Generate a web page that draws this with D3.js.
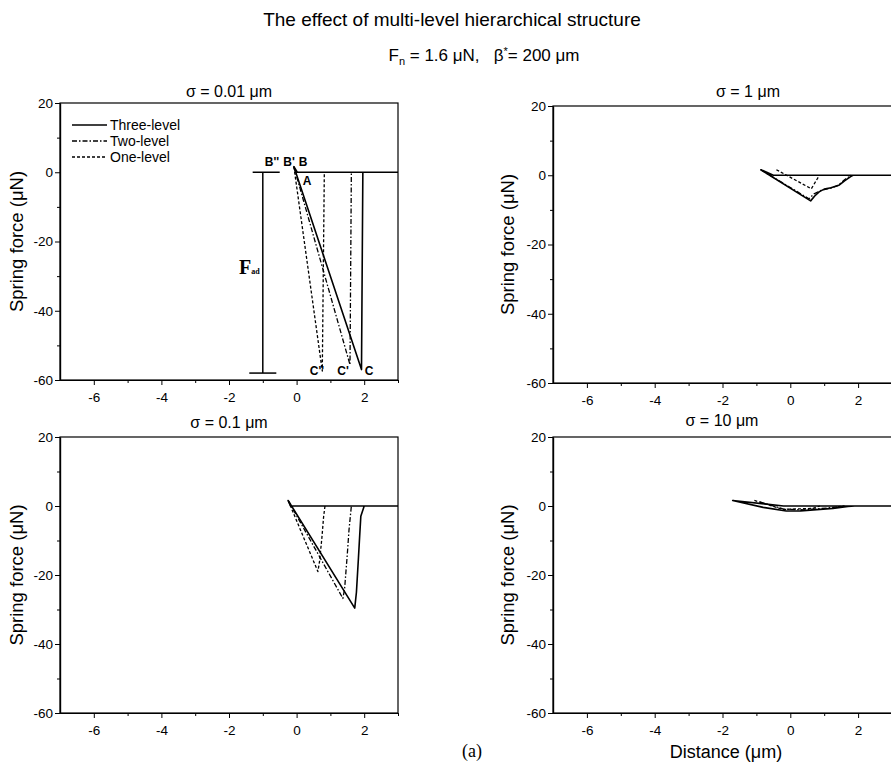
<!DOCTYPE html>
<html>
<head>
<meta charset="utf-8">
<script src="https://cdn.jsdelivr.net/npm/d3@7"></script>
<style>
  body { margin: 0; background: #fff; }
  svg { display: block; font-family: Arial, "Liberation Sans", sans-serif; }
</style>
</head>
<body>
<svg id="chart" width="891" height="762"></svg>
<script>
// values: distance in um, spring force in uN
var seriesNames = ["Three-level", "Two-level", "One-level"];
var panelTitles = ["σ = 0.01 μm", "σ = 1 μm", "σ = 0.1 μm", "σ = 10 μm"];
var xTicks = [-6, -4, -2, 0, 2];
var xMinor = [-5, -3, -1, 1, 3];
var yTicks = [20, 0, -20, -40, -60];
var yMinor = [10, -10, -30, -50];

// sigma = 0.01
var three001 = [[3, 0], [0.02, 0], [-0.08, 1.6], [1.92, -57], [1.96, 0]];
var two001 = [[-0.08, 1.6], [1.58, -55.6], [1.62, 0]];
var one001 = [[-0.08, 1.6], [0.76, -57.4], [0.82, 0]];
// sigma = 1
var three1 = [[3, 0], [-0.5, 0], [-0.87, 1.6], [0.6, -7.4], [0.72, -6], [0.85, -4.8], [1.0, -4], [1.2, -3.6], [1.45, -2.8], [1.6, -1.6], [1.78, -0.4], [1.85, 0]];
var two1 = [[-0.87, 1.6], [0.55, -6.8], [0.7, -5.4], [0.9, -4.4], [1.2, -3.7], [1.4, -3], [1.6, -1.3], [1.8, 0]];
var one1 = [[-0.41, 1.6], [0.62, -3.9], [0.86, 0]];
// sigma = 0.1
var three01 = [[3, 0], [-0.18, 0], [-0.25, 1.6], [1.72, -29.6], [1.77, -25], [1.83, -15], [1.87, -8], [1.9, -3], [2.0, 0]];
var two01 = [[-0.25, 1.6], [1.37, -26.8], [1.42, -24], [1.5, -14], [1.55, -7], [1.62, 0]];
var one01 = [[-0.25, 1.6], [0.63, -19], [0.68, -16], [0.75, -9], [0.8, -3], [0.84, 0]];
// sigma = 10
var three10 = [[3, 0], [-0.2, 0], [-1.7, 1.6], [-0.8, -0.4], [-0.12, -1.45], [0.3, -1.4], [1.26, -0.7], [1.7, -0.1], [1.9, 0]];
var two10 = [[-0.9, 1.2], [-0.2, -0.9], [0.4, -1.1], [1.1, -0.6], [1.6, 0]];
var one10 = [[-1.06, 1.6], [-0.22, -1], [0.67, -0.7], [0.87, 0]];

// adhesion force marker in the first panel
var fadX = -1, fadValue = -58;
var fadCapTop = [-1.3, -0.5], fadCapBottom = [-1.4, -0.6];

var panelData = [
  [three001, two001, one001],
  [three1, two1, one1],
  [three01, two01, one01],
  [three10, two10, one10]
];

// layout of the four panels
var layout = [
  { left: 60, right: 398, top: 103, bottom: 380, titleX: 229, titleY: 97, labelX: 17 },
  { left: 553, right: 892, top: 106, bottom: 383, titleX: 748, titleY: 97, labelX: 508 },
  { left: 60, right: 398, top: 437, bottom: 713, titleX: 229, titleY: 428, labelX: 17 },
  { left: 553, right: 892, top: 437, bottom: 713, titleX: 722, titleY: 426, labelX: 508 }
];
var dashes = [null, "5,2,1.5,2", "3,2"];

var svg = d3.select("#chart");

// headings
svg.append("text")
  .attr("x", 452).attr("y", 26)
  .attr("text-anchor", "middle")
  .style("font-size", "19px")
  .text("The effect of multi-level hierarchical structure");

var sub = svg.append("text")
  .attr("x", 484).attr("y", 61)
  .attr("text-anchor", "middle")
  .style("font-size", "17px");
sub.append("tspan").text("F");
sub.append("tspan").attr("dy", 4).style("font-size", "11px").text("n");
sub.append("tspan").attr("dy", -4).text(" = 1.6 μN,\u00a0\u00a0\u00a0β");
sub.append("tspan").attr("dy", -6).style("font-size", "11px").text("*");
sub.append("tspan").attr("dy", 6).text("= 200 μm");

var scales = [];

layout.forEach(function (L, i) {
  var x = d3.scaleLinear().domain([-7, 3]).range([L.left, L.right]);
  var y = d3.scaleLinear().domain([-60, 20]).range([L.bottom, L.top]);
  scales.push({ x: x, y: y });
  var g = svg.append("g");

  // frame
  g.append("rect")
    .attr("x", L.left).attr("y", L.top)
    .attr("width", L.right - L.left).attr("height", L.bottom - L.top)
    .attr("fill", "none").attr("stroke", "#000").attr("stroke-width", 1.2);

  // axes
  var xa = g.append("g").attr("transform", "translate(0," + L.bottom + ")")
    .call(d3.axisBottom(x).tickValues(xTicks).tickSize(5).tickSizeOuter(0).tickFormat(d3.format("d")));
  g.append("g").attr("transform", "translate(0," + L.bottom + ")")
    .call(d3.axisBottom(x).tickValues(xMinor).tickSize(3).tickSizeOuter(0).tickFormat(""));
  var ya = g.append("g").attr("transform", "translate(" + L.left + ",0)")
    .call(d3.axisLeft(y).tickValues(yTicks).tickSize(5).tickSizeOuter(0).tickFormat(d3.format("d")));
  g.append("g").attr("transform", "translate(" + L.left + ",0)")
    .call(d3.axisLeft(y).tickValues(yMinor).tickSize(3).tickSizeOuter(0).tickFormat(""));
  g.selectAll(".domain").attr("stroke-width", 1.2);
  g.selectAll(".tick line").attr("stroke-width", 1);
  xa.selectAll("text").style("font-size", "13.5px").attr("dy", "1.05em");
  ya.selectAll("text").style("font-size", "13.5px").attr("x", -7);
  xa.selectAll("text").text(function (d) { return d < 0 ? "-" + Math.abs(d) : d; });
  ya.selectAll("text").text(function (d) { return d < 0 ? "-" + Math.abs(d) : d; });

  // titles and y label
  g.append("text")
    .attr("x", L.titleX).attr("y", L.titleY)
    .attr("text-anchor", "middle")
    .style("font-size", "16px")
    .text(panelTitles[i]);
  g.append("text")
    .attr("transform", "translate(" + (L.labelX + 6) + "," + ((L.top + L.bottom) / 2) + ") rotate(-90)")
    .attr("text-anchor", "middle")
    .style("font-size", "18.5px")
    .text("Spring force (μN)");

  // curves
  var line = d3.line().x(function (d) { return x(d[0]); }).y(function (d) { return y(d[1]); });
  panelData[i].forEach(function (s, k) {
    g.append("path")
      .attr("d", line(s))
      .attr("fill", "none")
      .attr("stroke", "#000")
      .attr("stroke-width", k === 0 ? 1.6 : 1.3)
      .attr("stroke-dasharray", dashes[k])
      .attr("stroke-linejoin", "round");
  });
});

// legend in the first panel
var legend = svg.append("g");
seriesNames.forEach(function (name, k) {
  var ly = 125 + k * 16;
  legend.append("line")
    .attr("x1", 72).attr("x2", 107).attr("y1", ly).attr("y2", ly)
    .attr("stroke", "#000").attr("stroke-width", k === 0 ? 1.6 : 1.3)
    .attr("stroke-dasharray", dashes[k]);
  legend.append("text")
    .attr("x", 110).attr("y", ly + 5)
    .style("font-size", "14px")
    .text(name);
});

// annotations in the first panel
var sx = scales[0].x, sy = scales[0].y;
var ann = svg.append("g");
ann.append("line")
  .attr("x1", sx(fadX)).attr("x2", sx(fadX)).attr("y1", sy(0)).attr("y2", sy(fadValue))
  .attr("stroke", "#000").attr("stroke-width", 1.5);
[[fadCapTop, 0], [fadCapBottom, fadValue]].forEach(function (c) {
  ann.append("line")
    .attr("x1", sx(c[0][0])).attr("x2", sx(c[0][1])).attr("y1", sy(c[1])).attr("y2", sy(c[1]))
    .attr("stroke", "#000").attr("stroke-width", 1.5);
});
var fad = ann.append("text")
  .attr("x", 239).attr("y", 274)
  .style("font-family", "'Liberation Serif', 'Times New Roman', serif")
  .style("font-weight", "bold");
fad.append("tspan").style("font-size", "20px").text("F");
fad.append("tspan").style("font-size", "8px").text("ad");

var pointLabels = [
  { t: "B''", x: 272, y: 166 },
  { t: "B'", x: 289, y: 166 },
  { t: "B", x: 303, y: 166 },
  { t: "A", x: 307, y: 185 },
  { t: "C''", x: 317, y: 375 },
  { t: "C'", x: 343, y: 375 },
  { t: "C", x: 369, y: 375 }
];
ann.selectAll(".pl").data(pointLabels).enter().append("text")
  .attr("x", function (d) { return d.x; })
  .attr("y", function (d) { return d.y; })
  .attr("text-anchor", "middle")
  .style("font-size", "12px").style("font-weight", "bold")
  .text(function (d) { return d.t; });

// bottom labels
svg.append("text")
  .attr("x", 726).attr("y", 758)
  .attr("text-anchor", "middle")
  .style("font-size", "18px")
  .text("Distance (μm)");
svg.append("text")
  .attr("x", 472).attr("y", 757)
  .attr("text-anchor", "middle")
  .style("font-family", "'Liberation Serif', 'Times New Roman', serif")
  .style("font-size", "18px")
  .text("(a)");
</script>
</body>
</html>
